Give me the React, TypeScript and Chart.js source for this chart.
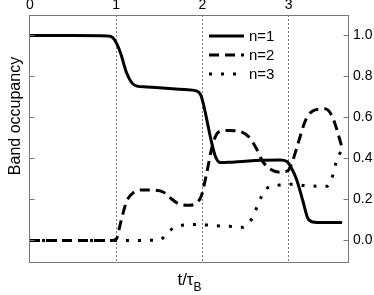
import { useEffect, useRef } from 'react';
import { Chart, registerables } from 'chart.js';

Chart.register(...registerables);

const FONT = "'Liberation Sans', Arial, Helvetica, sans-serif";

const xTicks = [0, 1, 2, 3];
const yTicks = [0, 0.2, 0.4, 0.6, 0.8, 1.0];
const seriesLabels = ['n=1', 'n=2', 'n=3'];
const xLabelMain = 't/τ';
const xLabelSub = 'B';
const yLabel = 'Band occupancy';

const n1T = [0, 0.5, 0.9, 0.96, 1.0, 1.05, 1.12, 1.18, 1.24, 1.35, 1.5, 1.65, 1.8, 1.93, 1.98, 2.02, 2.06, 2.1, 2.15, 2.21, 2.3, 2.5, 2.7, 2.9, 2.98, 3.03, 3.09, 3.17, 3.22, 3.28, 3.4, 3.62];
const n1V = [1.0, 1.0, 0.998, 0.99, 0.965, 0.915, 0.818, 0.77, 0.753, 0.749, 0.745, 0.74, 0.736, 0.73, 0.71, 0.65, 0.57, 0.49, 0.41, 0.38, 0.381, 0.387, 0.391, 0.392, 0.385, 0.355, 0.3, 0.185, 0.11, 0.09, 0.087, 0.087];

const n2T = [0, 0.5, 0.95, 1.0, 1.05, 1.12, 1.2, 1.3, 1.45, 1.55, 1.62, 1.72, 1.84, 1.93, 1.99, 2.05, 2.12, 2.19, 2.3, 2.45, 2.55, 2.63, 2.7, 2.8, 2.9, 2.99, 3.04, 3.1, 3.2, 3.3, 3.42, 3.5, 3.56, 3.62];
const n2V = [0, 0, 0, 0.006, 0.085, 0.19, 0.234, 0.246, 0.245, 0.235, 0.21, 0.18, 0.172, 0.183, 0.22, 0.33, 0.47, 0.53, 0.537, 0.53, 0.5, 0.445, 0.385, 0.345, 0.333, 0.34, 0.38, 0.46, 0.59, 0.636, 0.642, 0.61, 0.54, 0.45];

const n3T = [0, 0.5, 1.0, 1.5, 1.55, 1.64, 1.78, 1.93, 2.07, 2.2, 2.34, 2.47, 2.52, 2.57, 2.63, 2.68, 2.76, 2.9, 3.05, 3.18, 3.32, 3.45, 3.51, 3.55, 3.61];
const n3V = [0, 0, 0, 0.002, 0.015, 0.054, 0.075, 0.078, 0.075, 0.071, 0.068, 0.064, 0.08, 0.104, 0.16, 0.21, 0.258, 0.27, 0.274, 0.268, 0.265, 0.265, 0.315, 0.38, 0.44];

const seriesT = [n1T, n2T, n3T];
const seriesV = [n1V, n2V, n3V];
const seriesDash = [[], [10, 6], [3, 9]];

const decor = {
  id: 'decor',
  afterDatasetsDraw(chart: any) {
    const { ctx, chartArea: a, scales } = chart;
    ctx.save();
    ctx.setLineDash([]);
    ctx.strokeStyle = '#777';
    ctx.lineWidth = 1;
    const L = Math.round(a.left) - 0.5;
    const R = Math.round(a.right) - 0.5;
    const T = Math.round(a.top) + 0.5;
    const B = Math.round(a.bottom) - 0.5;
    ctx.strokeRect(L, T, R - L, B - T);
    yTicks.forEach((v) => {
      const py = Math.round(scales.y.getPixelForValue(v)) + 0.5;
      ctx.beginPath();
      ctx.moveTo(L, py);
      ctx.lineTo(L + 5, py);
      ctx.moveTo(R - 5, py);
      ctx.lineTo(R, py);
      ctx.stroke();
    });
    ctx.restore();
  },
  afterDraw(chart: any) {
    const { ctx, chartArea: a } = chart;
    ctx.save();
    // legend
    chart.data.datasets.forEach((ds: any, i: number) => {
      const y = 36 + 19 * i;
      ctx.strokeStyle = '#000';
      ctx.lineWidth = 3;
      ctx.lineCap = 'butt';
      ctx.setLineDash(ds.borderDash || []);
      ctx.beginPath();
      ctx.moveTo(209, y);
      ctx.lineTo(244, y);
      ctx.stroke();
      ctx.setLineDash([]);
      ctx.fillStyle = '#000';
      ctx.font = `15px ${FONT}`;
      ctx.textBaseline = 'middle';
      ctx.textAlign = 'left';
      ctx.fillText(ds.label, 249, y + 1);
    });
    // y axis title (rotated)
    ctx.save();
    ctx.translate(16, 116);
    ctx.rotate(-Math.PI / 2);
    ctx.font = `16px ${FONT}`;
    ctx.fillStyle = '#000';
    ctx.textAlign = 'center';
    ctx.textBaseline = 'middle';
    ctx.fillText(yLabel, 0, 0);
    ctx.restore();
    // x axis label with subscript
    ctx.fillStyle = '#000';
    ctx.textBaseline = 'alphabetic';
    ctx.textAlign = 'left';
    ctx.font = `17px ${FONT}`;
    const w1 = ctx.measureText(xLabelMain).width;
    ctx.font = `12px ${FONT}`;
    const w2 = ctx.measureText(xLabelSub).width;
    const cx = (a.left + a.right) / 2;
    const x0 = cx - (w1 + w2) / 2;
    ctx.font = `17px ${FONT}`;
    ctx.fillText(xLabelMain, x0, 285);
    ctx.font = `12px ${FONT}`;
    ctx.fillText(xLabelSub, x0 + w1, 291);
    ctx.restore();
  },
};

export default function App() {
  const ref = useRef<HTMLCanvasElement | null>(null);
  useEffect(() => {
    if (!ref.current) return;
    const datasets = seriesLabels.map((label, k) => ({
      label,
      data: seriesT[k].map((x, i) => ({ x, y: seriesV[k][i] })),
      borderColor: '#000',
      borderWidth: 3,
      borderDash: seriesDash[k],
      borderCapStyle: 'butt' as const,
      pointRadius: 0,
      fill: false,
      cubicInterpolationMode: 'monotone' as const,
    }));
    const chart = new Chart(ref.current, {
      type: 'line',
      data: { datasets },
      plugins: [decor],
      options: {
        animation: false,
        responsive: true,
        maintainAspectRatio: false,
        layout: { padding: { left: 30, right: 0, top: 0, bottom: 32 } },
        plugins: { legend: { display: false }, tooltip: { enabled: false } },
        scales: {
          x: {
            type: 'linear',
            position: 'top',
            min: 0,
            max: 3.7,
            afterBuildTicks: (s: any) => {
              s.ticks = xTicks.map((v) => ({ value: v }));
            },
            afterFit: (s: any) => {
              s.height = 15;
            },
            ticks: {
              font: { family: FONT, size: 14 },
              color: '#000',
              padding: 1,
              maxRotation: 0,
              autoSkip: false,
            },
            grid: {
              color: (c: any) => (c.tick && c.tick.value === 0 ? 'rgba(0,0,0,0)' : '#777'),
              lineWidth: 1,
              drawTicks: false,
            },
            border: { display: false, dash: [2, 2] },
          },
          y: {
            type: 'linear',
            position: 'right',
            min: -0.11,
            max: 1.1,
            afterBuildTicks: (s: any) => {
              s.ticks = yTicks.map((v) => ({ value: v }));
            },
            afterFit: (s: any) => {
              s.width = 25;
            },
            ticks: {
              font: { family: FONT, size: 14 },
              color: '#000',
              padding: 4,
              callback: (v: any) => Number(v).toFixed(1),
            },
            grid: { display: false, drawTicks: false },
            border: { display: false },
          },
        },
      },
    });
    return () => chart.destroy();
  }, []);
  return (
    <div style={{ position: 'absolute', left: 0, top: 0, width: 374, height: 295 }}>
      <canvas ref={ref} />
    </div>
  );
}
